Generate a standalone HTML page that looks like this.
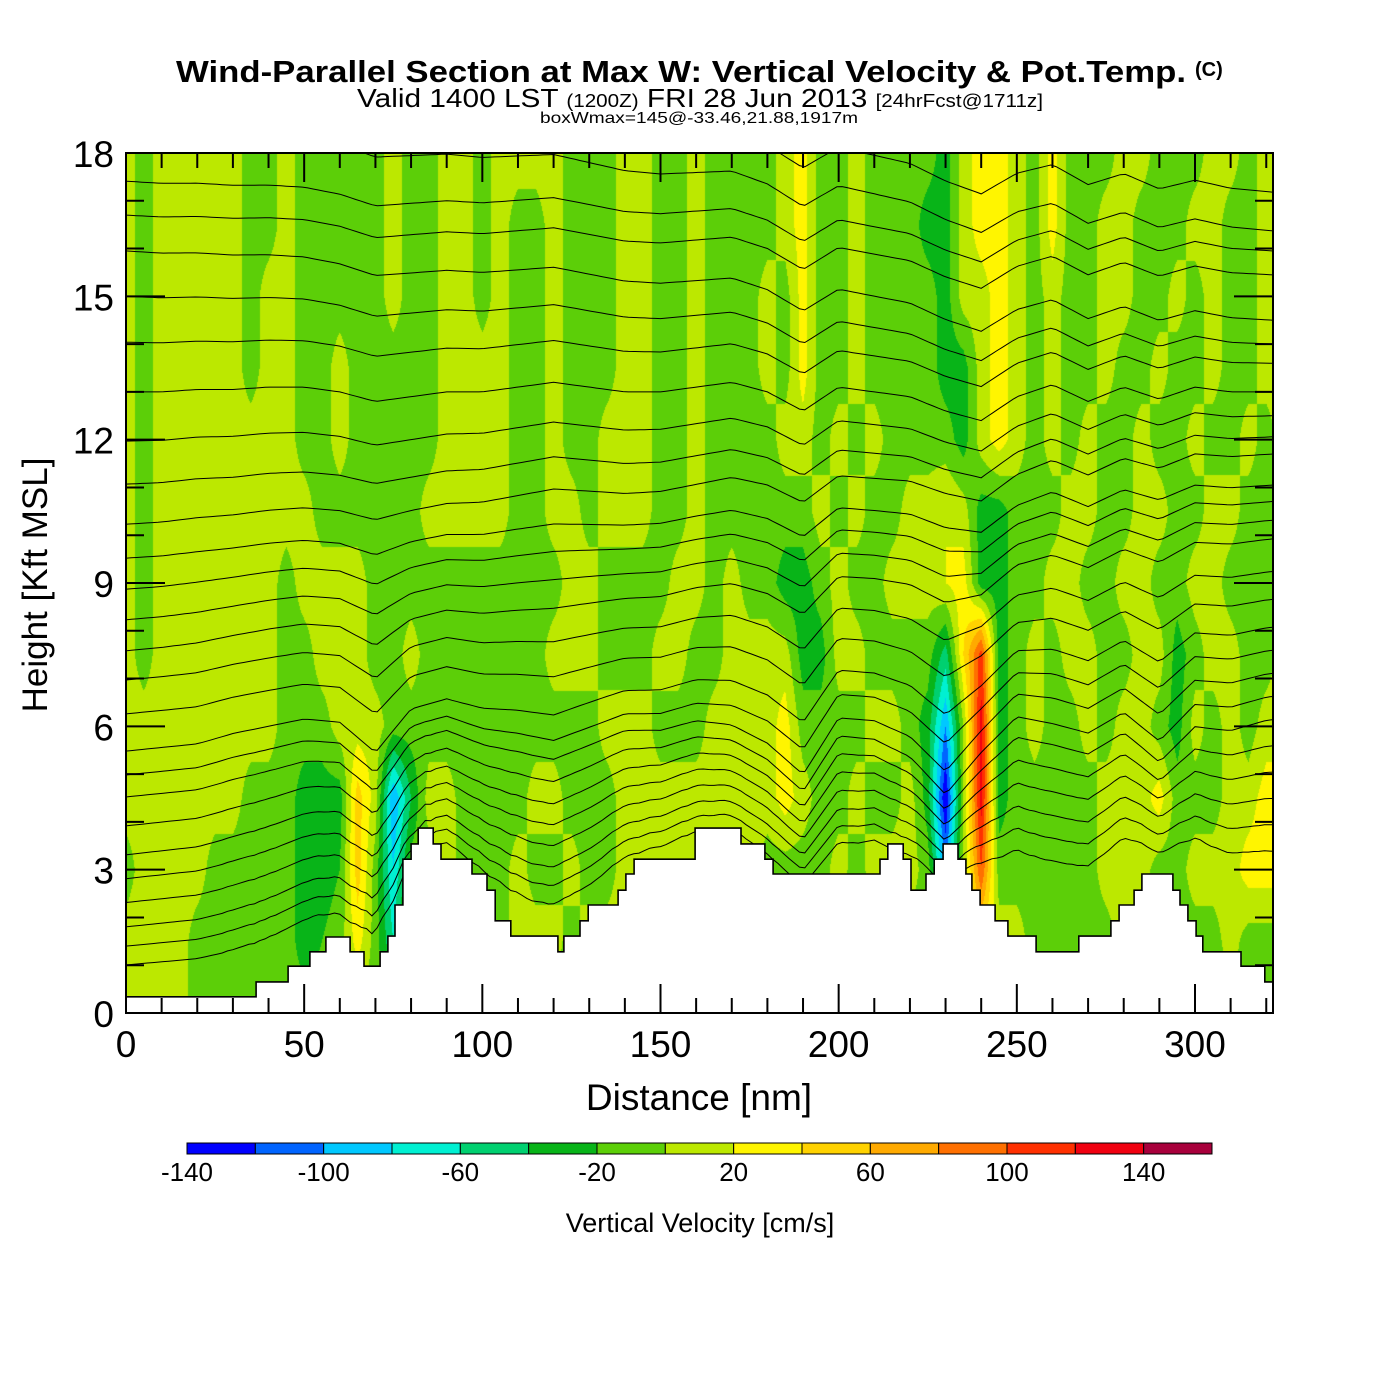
<!DOCTYPE html>
<html><head><meta charset="utf-8"><title>Wind-Parallel Section</title>
<style>
html,body{margin:0;padding:0;background:#fff;}
#wrap{position:relative;width:1400px;height:1400px;overflow:hidden;font-family:"Liberation Sans",Arial,sans-serif;}
#field{position:absolute;left:126px;top:153px;}
#overlay{position:absolute;left:0;top:0;}
</style></head>
<body>
<div id="wrap">
<canvas id="field" width="1147" height="860"></canvas>
<svg id="overlay" width="1400" height="1400" xmlns="http://www.w3.org/2000/svg">
  <defs><clipPath id="plotclip"><rect x="126" y="153" width="1147" height="860"/></clipPath></defs>
  <g id="thetaLines" clip-path="url(#plotclip)"></g>
  <g id="terrainG" clip-path="url(#plotclip)"></g>
  <rect x="126" y="153" width="1147" height="860" fill="none" stroke="#000" stroke-width="2"/>
  <g id="ticks"></g>
  <g id="yLabels" font-size="37" text-anchor="end"></g>
  <g id="xLabels" font-size="37" text-anchor="middle"></g>
  <text x="699" y="1110" font-size="37" text-anchor="middle">Distance [nm]</text>
  <text transform="translate(47,585) rotate(-90)" font-size="35" text-anchor="middle">Height [Kft MSL]</text>
  <text x="176" y="82" font-size="31" font-weight="bold" textLength="1010" lengthAdjust="spacingAndGlyphs">Wind-Parallel Section at Max W: Vertical Velocity &amp; Pot.Temp.</text>
  <text x="1195" y="76" font-size="20" font-weight="bold">(C)</text>
  <text x="357" y="107" textLength="686" lengthAdjust="spacingAndGlyphs"><tspan font-size="26">Valid 1400 LST </tspan><tspan font-size="18">(1200Z)</tspan><tspan font-size="26"> FRI 28 Jun 2013 </tspan><tspan font-size="18">[24hrFcst@1711z]</tspan></text>
  <text x="540" y="123" font-size="16" textLength="318" lengthAdjust="spacingAndGlyphs">boxWmax=145@-33.46,21.88,1917m</text>
  <g id="colorbar"></g>
  <g id="cbLabels" font-size="26" text-anchor="middle"></g>
  <text x="700" y="1232" font-size="27" text-anchor="middle">Vertical Velocity [cm/s]</text>
</svg>
</div>
<script>
// ---------- data ----------
const gridNm = [0,5,10,15,20,25,30,35,40,45,50,55,60,65,70,75,80,85,90,95,100,105,110,115,120,125,130,135,140,145,150,155,160,165,170,175,180,185,190,195,200,205,210,215,220,225,230,235,240,245,250,255,260,265,270,275,280,285,290,295,300,305,310,315,320,325];
const gridKft = [18,16.5,15,13.5,12,10.5,9,7.5,6,4.5,3,1.5,0];
const wK18   = [10,-10,10,10,10,10,10,-10,-10,10,-10,-10,-10,-10,-10,10,-10,-10,10,10,-10,10,10,10,10,-10,-10,-10,10,10,-10,-10,10,-10,-10,-10,-10,10,30,-10,-10,10,-10,-10,-10,-10,-30,10,30,30,10,-10,30,-10,-10,-10,10,10,-10,-10,-10,10,10,-10,10,10];
const wK16_5 = [10,-10,10,10,10,10,10,-10,-10,10,-10,-10,-10,-10,-10,10,-10,-10,10,10,-10,10,-10,-10,10,-10,-10,-10,10,10,-10,-10,10,-10,-10,-10,-10,10,30,-10,-10,10,-10,-10,-10,-30,-30,10,30,30,10,-10,30,-10,-10,10,10,-10,-10,-10,10,10,-10,-10,10,10];
const wK15   = [10,-10,10,10,10,10,10,-10,10,10,-10,-10,-10,-10,-10,10,-10,-10,10,10,-10,10,-10,-10,10,-10,-10,-10,10,10,-10,-10,10,-10,-10,-10,10,-10,30,-10,-10,10,-10,-10,-10,-10,-30,10,10,30,10,-10,10,-10,-10,10,10,-10,-10,10,-10,10,-10,-10,10,-10];
const wK13_5 = [10,-10,10,10,10,10,10,-10,10,10,-10,-10,10,-10,-10,-10,-10,-10,10,10,10,10,-10,-10,10,-10,-10,-10,10,10,-10,-10,10,-10,-10,-10,10,-10,30,-10,-10,10,-10,-10,-10,-10,-30,-30,10,30,10,-10,10,-10,-10,10,-10,-10,10,-10,-10,10,-10,-10,10,10];
const wK12   = [10,-10,10,10,10,10,10,10,10,10,-10,-10,10,-10,-10,-10,-10,-10,10,10,10,10,-10,-10,10,-10,-10,10,10,10,-10,-10,10,-10,-10,-10,-10,10,10,-10,10,-10,10,-10,-10,-10,-10,-30,10,30,10,-10,10,-10,10,-10,-10,10,-10,-10,10,-10,-10,10,-10,10];
const wK10_5 = [10,-10,10,10,10,10,10,10,10,10,10,-10,-10,-10,-10,-10,-10,10,10,10,10,10,-10,-10,10,10,-10,10,10,10,-10,-10,10,-10,-10,-10,-10,-10,-10,10,-10,10,-10,-10,10,10,20,10,-30,-30,-10,-10,-10,10,10,-10,-10,10,10,-10,-10,10,10,-10,-10,10];
const wK9    = [10,-10,10,10,10,10,10,10,10,-10,10,10,10,10,-10,-10,-10,-10,-10,-10,-10,-10,-10,-10,-10,10,10,-10,-10,-10,-10,10,10,-10,10,-10,-10,-30,-30,-10,10,-10,-10,10,10,10,20,30,-30,-30,-10,-10,10,10,-10,-10,10,10,-10,-10,10,10,-10,-10,-10,10];
const wK7_5  = [10,-10,10,10,10,10,10,10,10,-10,-10,10,10,10,-10,-10,10,-10,-10,-10,-10,-10,-10,-10,10,10,10,-10,-10,-10,10,10,-10,-10,10,10,10,10,-30,-30,10,10,-10,-10,-10,-10,-50,40,110,-30,-10,10,-10,10,10,-10,-10,10,10,-30,-10,10,10,-10,-10,10];
const wK6    = [10,10,10,10,10,10,10,10,10,-10,-10,-10,10,10,10,-10,-10,-10,-10,-10,-10,-10,-10,-10,-10,-10,-10,10,10,10,-10,-10,-10,10,10,10,10,30,-10,-10,-10,-10,10,10,-10,-30,-100,0,130,-30,-10,10,-10,-10,10,-10,10,10,-10,-30,10,-10,10,-10,10,10];
const wK4_5  = [10,10,10,10,10,10,10,-10,-10,-10,-30,-30,-30,50,10,-100,-40,10,10,-10,-10,-10,-10,10,10,-10,-10,-10,10,10,10,10,10,10,10,10,10,30,10,-10,-10,10,-10,-10,10,-30,-140,0,130,-30,-10,-10,-10,-10,-10,10,10,10,30,-10,-10,-10,10,10,30,30];
const wK3    = [-10,10,10,10,10,-10,-10,-10,-10,-10,-30,-30,-20,50,-10,-80,-10,-10,10,-10,-10,-10,10,-10,-10,10,-10,-10,10,10,10,10,10,10,10,10,-10,-10,-10,-10,10,-10,10,10,10,-10,-100,0,100,-10,-10,-10,-10,-10,-10,10,10,10,-10,-10,10,10,10,30,30,30];
const wK1_5  = [10,10,10,10,-10,-10,-10,-10,-10,-10,-30,-20,-10,30,-10,-60,10,10,10,10,10,-10,10,10,10,-10,10,10,10,10,10,10,10,10,10,10,-10,-10,-10,-10,-10,-10,-10,-10,-10,-10,-30,10,30,10,10,-10,-10,-10,-10,-10,10,10,-10,-10,-10,-10,10,-10,-10,-10];
const wK0    = [10,10,10,10,-10,-10,-10,-10,-10,-10,-10,-10,-10,-10,-10,-10,-10,-10,-10,-10,-10,-10,-10,-10,-10,-10,-10,-10,-10,-10,-10,-10,-10,-10,-10,-10,-10,-10,-10,-10,-10,-10,-10,-10,-10,-10,-10,-10,-10,-10,-10,-10,-10,-10,-10,-10,-10,-10,-10,-10,-10,-10,-10,-10,-10,-10];
const wRows = [wK18,wK16_5,wK15,wK13_5,wK12,wK10_5,wK9,wK7_5,wK6,wK4_5,wK3,wK1_5,wK0];

const terrainNm  = [0,36.5,45.5,51.6,56.1,62.9,66.8,71.3,73.5,75.5,77.7,80.0,82.0,86.2,88.4,97.1,101.3,103.6,108.0,121.2,122.9,127.4,129.7,138.1,140.3,142.6,159.7,172.6,179.3,181.6,211.6,213.8,218.1,220.3,224.5,226.8,229.3,233.5,235.7,237.4,239.7,243.9,247.5,255.4,267.4,276.4,278.7,282.9,285.1,293.8,295.8,298.0,300.3,302.2,312.9,319.6];
const terrainKft = [0.34,0.65,0.98,1.28,1.59,1.28,0.98,1.28,1.61,2.26,3.22,3.54,3.87,3.54,3.22,2.91,2.57,1.93,1.61,1.28,1.61,1.93,2.26,2.57,2.91,3.22,3.87,3.54,3.22,2.91,3.22,3.54,3.22,2.57,2.91,3.22,3.54,3.22,2.91,2.57,2.26,1.93,1.61,1.28,1.61,1.93,2.26,2.57,2.91,2.57,2.26,1.93,1.61,1.28,0.98,0.65];

const thetaLeftKft  = [21.0,20.2,19.4,18.6,17.41,16.70,15.95,15.0,14.04,13.0,11.97,11.07,10.23,9.52,8.87,8.23,7.58,6.97,6.26,5.46,4.94,4.46,3.83,3.2,2.68,2.16,1.63,1.21,0.8];
const thetaRightKft = [19.7,18.6,17.18,16.37,15.95,15.45,14.5,14.0,13.6,13.0,12.5,12.06,11.7,11.05,10.7,10.3,9.9,9.2,8.6,8.0,7.5,7.0,6.5,6.0,5.4,4.8,4.2,3.6,3.0];
const profileNm     = [0,10,20,30,40,50,60,70,80,90,100,110,120,130,140,150,160,170,180,190,200,210,220,230,240,250,260,270,280,290,300,310,320,330];
const profileUpper  = [0,0,0.05,0.05,0.1,0.1,0,-0.2,-0.1,0,0,0.1,0.2,0.1,0,0,0.1,0.2,0,-0.4,0.1,0,-0.1,-0.4,-0.6,-0.1,0.15,-0.2,0.1,-0.15,0.1,0,0,0];
const profileLower  = [0,0,0,0.1,0.15,0.2,0.1,-0.4,0.2,0.3,0.1,0,-0.15,0,0.15,0.1,0.2,0.1,-0.2,-0.7,0.1,0,-0.3,-0.9,-0.3,0.2,0.05,-0.15,0.1,-0.4,0.1,0,0.1,0.1];

const cbValues = [-140,-120,-100,-80,-60,-40,-20,0,20,40,60,80,100,120,140,160];
const cbColors = ["#0000ff","#0064ff","#00c8ff","#00f0d2","#00d070","#08b418","#5ccf08","#bce800","#fff500","#ffd200","#ffaa00","#ff7000","#ff3000","#f00010","#a8003c"];
const cbTickLabels = [-140,-100,-60,-20,20,60,100,140];
const xTicks = [0,50,100,150,200,250,300];
const yTicks = [0,3,6,9,12,15,18];

// ---------- scales ----------
const X0=126, X1=1273, Y0=1013, Y1=153, NM_PX=3.5633, KFT_PX=(Y0-Y1)/18;
const xS = nm => X0 + nm*NM_PX;
const yS = k => Y0 - k*KFT_PX;
const NS="http://www.w3.org/2000/svg";
function mk(tag, attrs, parent){const e=document.createElementNS(NS,tag);for(const k in attrs)e.setAttribute(k,attrs[k]);parent.appendChild(e);return e;}

// ---------- field ----------
(function(){
  const cv=document.getElementById('field'), ctx=cv.getContext('2d');
  const W=cv.width,H=cv.height, img=ctx.createImageData(W,H);
  const rgb=cbColors.map(c=>[parseInt(c.substr(1,2),16),parseInt(c.substr(3,2),16),parseInt(c.substr(5,2),16)]);
  const nC=gridNm.length, nR=gridKft.length, dR=gridKft[0]-gridKft[1], dC=gridNm[1]-gridNm[0];
  for(let py=0;py<H;py++){
    const k=(Y0-(Y1+py+0.5))/KFT_PX;
    let r=(gridKft[0]-k)/dR; if(r<0)r=0; if(r>nR-1)r=nR-1;
    const r0=Math.min(Math.floor(r),nR-2), fr=r-r0;
    const ra=wRows[r0], rb=wRows[r0+1];
    for(let px=0;px<W;px++){
      const nm=(px+0.5)/NM_PX;
      let c=nm/dC; if(c>nC-1)c=nC-1;
      const c0=Math.min(Math.floor(c),nC-2), fc=c-c0;
      const v=(ra[c0]*(1-fc)+ra[c0+1]*fc)*(1-fr)+(rb[c0]*(1-fc)+rb[c0+1]*fc)*fr;
      let b=Math.floor((v-cbValues[0])/20); if(b<0)b=0; if(b>14)b=14;
      const o=(py*W+px)*4, col=rgb[b];
      img.data[o]=col[0];img.data[o+1]=col[1];img.data[o+2]=col[2];img.data[o+3]=255;
    }
  }
  ctx.putImageData(img,0,0);
})();

// ---------- terrain helper ----------
function terrainAt(nm){let h=terrainKft[0];for(let i=0;i<terrainNm.length;i++){if(nm>=terrainNm[i])h=terrainKft[i];}return h;}
function terrainSmooth(nm){let s=0,n=0;for(let d=-8;d<=8;d+=2){s+=terrainAt(Math.max(0,nm+d));n++;}return s/n;}
function interpProfile(arr,nm){const i=Math.min(Math.floor(nm/10),profileNm.length-2);const f=(nm-profileNm[i])/10;return arr[i]*(1-f)+arr[i+1]*f;}

// ---------- theta contours ----------
(function(){
  const g=document.getElementById('thetaLines');
  const maxNm=(X1-X0)/NM_PX;
  thetaLeftKft.forEach((hl,li)=>{
    const hr=thetaRightKft[li];
    let d="";
    for(let nm=0;nm<=maxNm+1;nm+=1.5){
      const base=hl+(hr-hl)*nm/maxNm;
      const wUp=Math.min(1,Math.max(0,(base-6)/5));
      const amp=1+0.4*Math.exp(-Math.pow((base-6)/3,2));
      let h=base+(interpProfile(profileUpper,nm)*wUp+interpProfile(profileLower,nm)*(1-wUp))*amp;
      if(base<6){h+=terrainSmooth(nm)*(1-base/6)*0.7;}
      d+=(d?"L":"M")+xS(nm).toFixed(1)+","+yS(h).toFixed(1);
    }
    const p=mk('path',{d:d,fill:'none',stroke:'#000','stroke-width':1},g);
    
    
  });
})();

// ---------- terrain polygon ----------
(function(){
  const g=document.getElementById('terrainG');
  let d="M"+xS(0)+","+(Y0+2);
  for(let i=0;i<terrainNm.length;i++){
    const x=xS(terrainNm[i]);
    if(i>0)d+="L"+x.toFixed(1)+","+yS(terrainKft[i-1]).toFixed(1);
    d+="L"+x.toFixed(1)+","+yS(terrainKft[i]).toFixed(1);
  }
  d+="L"+(X1+2)+","+yS(terrainKft[terrainKft.length-1]).toFixed(1)+"L"+(X1+2)+","+(Y0+2)+"Z";
  const p=mk('path',{d:d,fill:'#fff',stroke:'#000','stroke-width':1.6},g);
  
  
})();

// ---------- ticks & labels ----------
(function(){
  const g=document.getElementById('ticks');
  for(let k=0;k<=18;k++){
    const y=yS(k), L=(k%3===0)?39:18;
    mk('line',{x1:X0,y1:y,x2:X0+L,y2:y,stroke:'#000','stroke-width':2},g);
    mk('line',{x1:X1,y1:y,x2:X1-L,y2:y,stroke:'#000','stroke-width':2},g);
  }
  for(let nm=0;nm<=320;nm+=10){
    const x=xS(nm), L=(nm%50===0)?29:15;
    mk('line',{x1:x,y1:Y0,x2:x,y2:Y0-L,stroke:'#000','stroke-width':2},g);
    mk('line',{x1:x,y1:Y1,x2:x,y2:Y1+L,stroke:'#000','stroke-width':2},g);
  }
  const yl=document.getElementById('yLabels');
  yTicks.forEach(v=>{const t=mk('text',{x:114,y:yS(v)+14},yl);t.textContent=v;
    
    });
  const xl=document.getElementById('xLabels');
  xTicks.forEach(v=>{const t=mk('text',{x:xS(v),y:1057},xl);t.textContent=v;
    
    });
  const cb=document.getElementById('colorbar');
  const cbX=v=>187+(v-cbValues[0])*(1212-187)/(cbValues[cbValues.length-1]-cbValues[0]);
  cbColors.forEach((c,i)=>{
    const r=mk('rect',{x:cbX(cbValues[i]),y:1143,width:cbX(cbValues[i+1])-cbX(cbValues[i]),height:11,fill:c,stroke:'#000','stroke-width':1},cb);
    
    
  });
  const cl=document.getElementById('cbLabels');
  cbTickLabels.forEach(v=>{const t=mk('text',{x:cbX(v),y:1181},cl);t.textContent=v;
    
    });
})();
</script>
</body></html>
